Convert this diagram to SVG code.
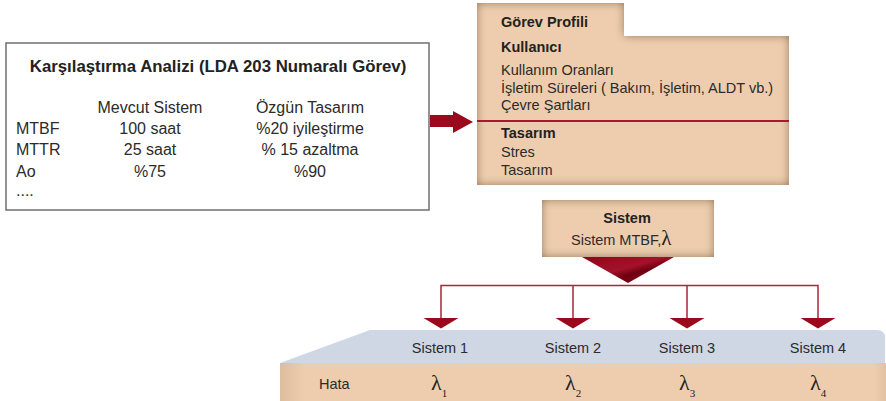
<svg xmlns="http://www.w3.org/2000/svg" width="886" height="401" viewBox="0 0 886 401">
<defs>
<style>
.t{font-family:"Liberation Sans",Arial,sans-serif;fill:#2b2b2b}
.tb{font-family:"Liberation Sans",Arial,sans-serif;font-weight:bold;fill:#222}
.lam{font-family:"Liberation Serif","Times New Roman",serif;fill:#222}
.peach{fill:#EDCDAD}
.conn{fill:none;stroke:#A82638;stroke-width:1.5}
.head{fill:#9A0A1C}
</style>
<filter id="bevel" x="-5%" y="-5%" width="110%" height="110%">
<feGaussianBlur in="SourceAlpha" stdDeviation="5" result="b"/>
<feComposite in="SourceAlpha" in2="b" operator="arithmetic" k2="1.5" k3="-1.5" result="edge"/>
<feFlood flood-color="#B39377" flood-opacity="1"/>
<feComposite in2="edge" operator="in" result="sh"/>
<feMerge><feMergeNode in="SourceGraphic"/><feMergeNode in="sh"/></feMerge>
</filter>
<linearGradient id="tri" x1="0" y1="0" x2="1" y2="1">
<stop offset="0" stop-color="#8E0718"/>
<stop offset="0.45" stop-color="#A3122A"/>
<stop offset="0.6" stop-color="#6E0010"/>
<stop offset="1" stop-color="#9A0A1C"/>
</linearGradient>
<linearGradient id="bandL" x1="0" y1="0" x2="1" y2="0">
<stop offset="0" stop-color="#DDBD9E"/>
<stop offset="0.04" stop-color="#EDCDAD"/>
<stop offset="0.98" stop-color="#EDCDAD"/>
<stop offset="1" stop-color="#E2C2A3"/>
</linearGradient>
</defs>
<rect width="886" height="401" fill="#fff"/>

<g id="node-comparison">
<rect x="6" y="43" width="423" height="167" fill="#fff" stroke="#6f6f6f" stroke-width="1.5"/>
<text class="tb" x="218" y="72" font-size="16.8" text-anchor="middle">Karşılaştırma Analizi (LDA 203 Numaralı Görev)</text>
<g class="t" font-size="16">
<text x="150" y="113" text-anchor="middle">Mevcut Sistem</text>
<text x="310" y="113" text-anchor="middle">Özgün Tasarım</text>
<text x="16" y="134">MTBF</text>
<text x="150" y="134" text-anchor="middle">100 saat</text>
<text x="310" y="134" text-anchor="middle">%20 iyileştirme</text>
<text x="16" y="155">MTTR</text>
<text x="150" y="155" text-anchor="middle">25 saat</text>
<text x="310" y="155" text-anchor="middle">% 15 azaltma</text>
<text x="16" y="177">Ao</text>
<text x="150" y="177" text-anchor="middle">%75</text>
<text x="310" y="177" text-anchor="middle">%90</text>
<text x="16" y="196">....</text>
</g>
</g>

<g id="node-profile">
<path class="peach" filter="url(#bevel)" d="M477,3 H624 V36 H789 V185 H477 Z"/>
<line x1="477" y1="121" x2="789" y2="121" stroke="#A6192E" stroke-width="2"/>
<text class="tb" x="501" y="27" font-size="14.5">Görev Profili</text>
<text class="tb" x="501" y="52" font-size="14.5">Kullanıcı</text>
<g class="t" font-size="14.5">
<text x="501" y="75">Kullanım Oranları</text>
<text x="501" y="93">İşletim Süreleri ( Bakım, İşletim, ALDT vb.)</text>
<text x="501" y="110">Çevre Şartları</text>
</g>
<text class="tb" x="501" y="138" font-size="14.5">Tasarım</text>
<g class="t" font-size="14.5">
<text x="501" y="157">Stres</text>
<text x="501" y="175">Tasarım</text>
</g>
</g>

<g id="node-system">
<rect class="peach" filter="url(#bevel)" x="542" y="200" width="172" height="57"/>
<text class="tb" x="627" y="223" font-size="14.5" text-anchor="middle">Sistem</text>
<text class="t" x="571" y="245" font-size="14.5">Sistem MTBF,<tspan class="lam" font-size="21">λ</tspan></text>
</g>

<g id="band">
<path d="M280,363 L370,330 H877 Q885,330 885,338 V363 Z" fill="#CFD7E5"/>
<rect x="280" y="363" width="606" height="38" fill="url(#bandL)"/>
<text class="t" x="319" y="389" font-size="14.5">Hata</text>
</g>

<g id="sistem-1">
<text class="t" x="440" y="353" font-size="14.5" text-anchor="middle">Sistem 1</text>
<text class="lam" x="431" y="390" font-size="22">λ<tspan font-size="11" dy="7">1</tspan></text>
</g>
<g id="sistem-2">
<text class="t" x="573" y="353" font-size="14.5" text-anchor="middle">Sistem 2</text>
<text class="lam" x="565" y="390" font-size="22">λ<tspan font-size="11" dy="7">2</tspan></text>
</g>
<g id="sistem-3">
<text class="t" x="687" y="353" font-size="14.5" text-anchor="middle">Sistem 3</text>
<text class="lam" x="679" y="390" font-size="22">λ<tspan font-size="11" dy="7">3</tspan></text>
</g>
<g id="sistem-4">
<text class="t" x="818" y="353" font-size="14.5" text-anchor="middle">Sistem 4</text>
<text class="lam" x="810" y="390" font-size="22">λ<tspan font-size="11" dy="7">4</tspan></text>
</g>

<g id="connectors">
<path d="M430,115 H453 V111 L473,122 L453,133 V127 H430 Z" fill="#9A0A1C"/>
<polygon points="582,257 674,257 628,283" fill="url(#tri)"/>
<path class="conn" d="M441,319 V285.5 H818 V319 M573,285.5 V319 M687,285.5 V319"/>
<polygon class="head" points="423.5,318 458.5,318 441,328.5"/>
<polygon class="head" points="555.5,318 590.5,318 573,328.5"/>
<polygon class="head" points="669.5,318 704.5,318 687,328.5"/>
<polygon class="head" points="800.5,318 835.5,318 818,328.5"/>
</g>
</svg>
